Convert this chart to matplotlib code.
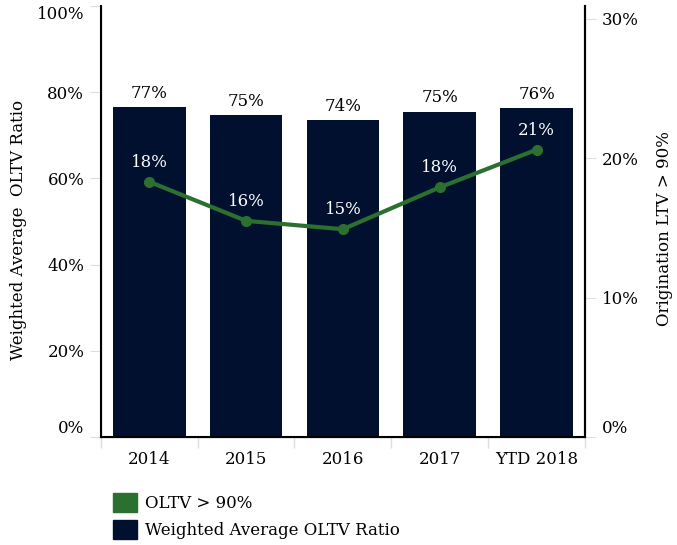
import matplotlib
matplotlib.use("Agg")
import matplotlib.pyplot as plt
from matplotlib.patches import Patch
from matplotlib.ticker import FixedLocator

plt.rcParams['font.family'] = ['DejaVu Serif']

# data
years = ["2014", "2015", "2016", "2017", "YTD 2018"]
avg_oltv = [76.6, 74.7, 73.6, 75.5, 76.4]        # left axis, %
avg_labels = ["77%", "75%", "74%", "75%", "76%"]
oltv_gt90 = [18.3, 15.5, 14.9, 17.9, 20.6]        # right axis, %
gt90_labels = ["18%", "16%", "15%", "18%", "21%"]

navy = "#01102f"
green = "#2b7030"
tick_gray = "#dddddd"

fig = plt.figure(figsize=(6.77, 5.45), dpi=100)
ax = fig.add_axes([0.149, 0.198, 0.715, 0.791])
x = range(len(years))

ax.bar(x, avg_oltv, width=0.75, color=navy, zorder=2)
for i, v in enumerate(avg_oltv):
    ax.text(i, v + 1.2, avg_labels[i], ha="center", va="bottom", fontsize=12)

ax.set_xlim(-0.5, len(years) - 0.5)
ax.set_ylim(0, 100)
ax.set_yticks([0, 20, 40, 60, 80, 100])
ax.set_yticklabels(["0%", "20%", "40%", "60%", "80%", "100%"], fontsize=12)
lbls = ax.get_yticklabels()
lbls[0].set_va("bottom")
lbls[-1].set_va("top")
ax.set_xticks(list(x))
ax.set_xticklabels(years, fontsize=12)
ax.tick_params(axis="x", which="major", length=0, pad=10)
ax.xaxis.set_minor_locator(FixedLocator([i + 0.5 for i in range(-1, len(years))]))
ax.tick_params(axis="x", which="minor", length=8, color=tick_gray, width=1)
ax.tick_params(axis="y", length=8, color=tick_gray, pad=4)
ax.spines["top"].set_visible(False)
ax.spines["left"].set_linewidth(1.5)
ax.spines["bottom"].set_linewidth(1.5)
ax.spines["right"].set_linewidth(1.5)

ax2 = ax.twinx()
ax2.plot(list(x), oltv_gt90, color=green, lw=3, marker="o", ms=7, zorder=3)
for i, v in enumerate(oltv_gt90):
    ax2.text(i, v + 0.8, gt90_labels[i], ha="center", va="bottom",
             fontsize=12, color="white")
ax2.set_ylim(0, 30.9)
ax2.set_yticks([0, 10, 20, 30])
ax2.set_yticklabels(["0%", "10%", "20%", "30%"], fontsize=12)
ax2.get_yticklabels()[0].set_va("bottom")
ax2.tick_params(axis="y", length=8, color=tick_gray, pad=4)
ax2.spines["top"].set_visible(False)
ax2.spines["right"].set_linewidth(1.5)

fig.text(0.027, 0.578, "Weighted Average  OLTV Ratio", rotation=90,
         ha="center", va="center", fontsize=12)
fig.text(0.982, 0.58, "Origination LTV > 90%", rotation=90,
         ha="center", va="center", fontsize=12)

handles = [Patch(color=green, label="OLTV > 90%"),
           Patch(color=navy, label="Weighted Average OLTV Ratio")]
fig.legend(handles=handles, loc="lower left", bbox_to_anchor=(0.155, -0.005),
           frameon=False, fontsize=12, handlelength=1.4, handleheight=1.4,
           handletextpad=0.5, labelspacing=0.5, borderpad=0)

fig.savefig("out.png", dpi=100)
